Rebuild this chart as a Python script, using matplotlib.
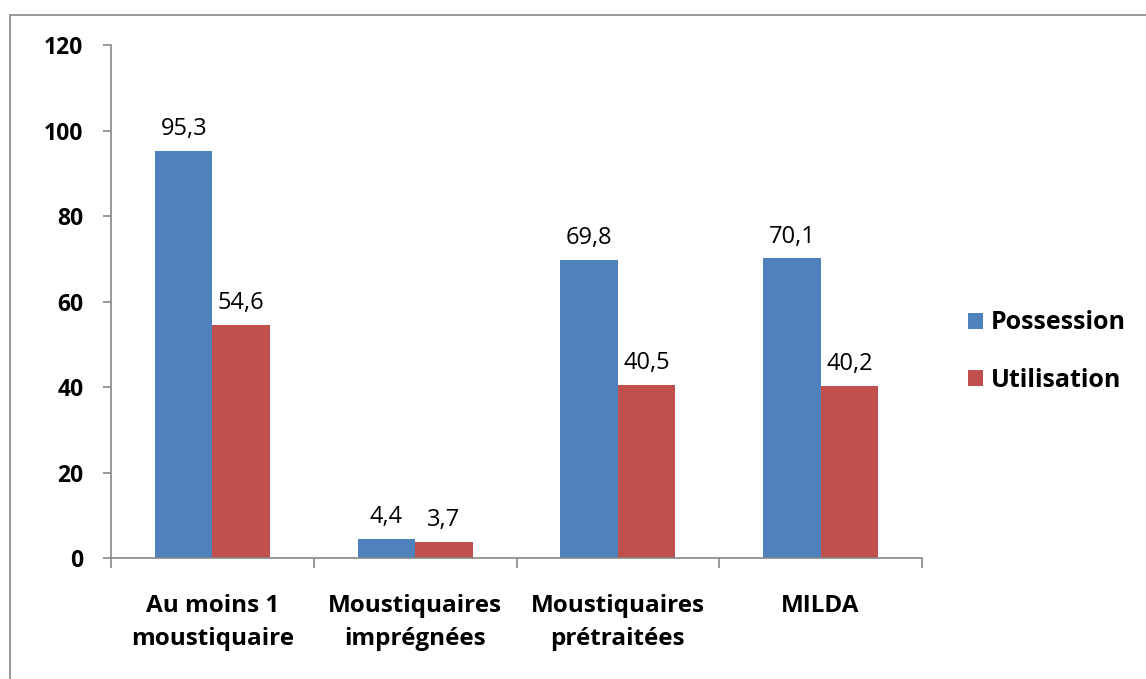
import matplotlib.pyplot as plt
import numpy as np
from matplotlib.patches import Rectangle

plt.rcParams['font.family'] = ['Open Sans', 'DejaVu Sans']

categories = ['Au moins 1\nmoustiquaire', 'Moustiquaires\nimprégnées',
              'Moustiquaires\nprétraitées', 'MILDA']
possession = [95.3, 4.4, 69.8, 70.1]
utilisation = [54.6, 3.7, 40.5, 40.2]
yticks = [0, 20, 40, 60, 80, 100, 120]

blue = '#4F81BD'
red = '#C0504D'
grey = '#888888'

fig = plt.figure(figsize=(11.46, 6.79), dpi=100)
ax = fig.add_axes([0.0969, 0.1782, 0.7076, 0.7555])

# outer chart frame (only left and top edges are visible)
fig.patches.append(Rectangle((10 / 1146, -0.1), 1.2, 1 - 15 / 679 + 0.1,
                             transform=fig.transFigure, fill=False,
                             edgecolor=grey, linewidth=1.2))

x = np.arange(len(categories))
w = 0.283
b1 = ax.bar(x - w / 2, possession, w, color=blue, label='Possession')
b2 = ax.bar(x + w / 2, utilisation, w, color=red, label='Utilisation')

def fmt(v):
    return ('%.1f' % v).replace('.', ',')

for bars, vals in ((b1, possession), (b2, utilisation)):
    for rect, v in zip(bars, vals):
        ax.annotate(fmt(v), (rect.get_x() + rect.get_width() / 2, v),
                    xytext=(0, 7), textcoords='offset points',
                    ha='center', va='bottom', fontsize=17)

ax.set_xlim(-0.5, len(categories) - 0.5)
ax.set_ylim(0, 120)
ax.set_yticks(yticks)
ax.set_yticklabels([str(t) for t in yticks], fontsize=16.5, fontweight='bold')

# category labels centered, ticks at the boundaries
ax.set_xticks(x)
ax.set_xticklabels(categories, fontsize=17.5, fontweight='bold', linespacing=1.5)
ax.tick_params(axis='x', which='major', length=0, pad=26)
ax.set_xticks(np.arange(-0.5, len(categories)), minor=True)
ax.tick_params(axis='x', which='minor', length=7, width=1.2, color=grey,
               direction='out')
ax.tick_params(axis='y', length=6, width=1.2, color=grey, pad=14)

for s in ('top', 'right'):
    ax.spines[s].set_visible(False)
for s in ('left', 'bottom'):
    ax.spines[s].set_color(grey)
    ax.spines[s].set_linewidth(1.2)

leg = fig.legend(handles=[b1, b2], loc='center left',
                 bbox_to_anchor=(0.825, 0.482), frameon=False,
                 prop={'size': 18, 'weight': 'bold'},
                 handlelength=0.62, handleheight=0.62, handletextpad=0.3,
                 labelspacing=1.3)

fig.savefig('out.png', dpi=100)
